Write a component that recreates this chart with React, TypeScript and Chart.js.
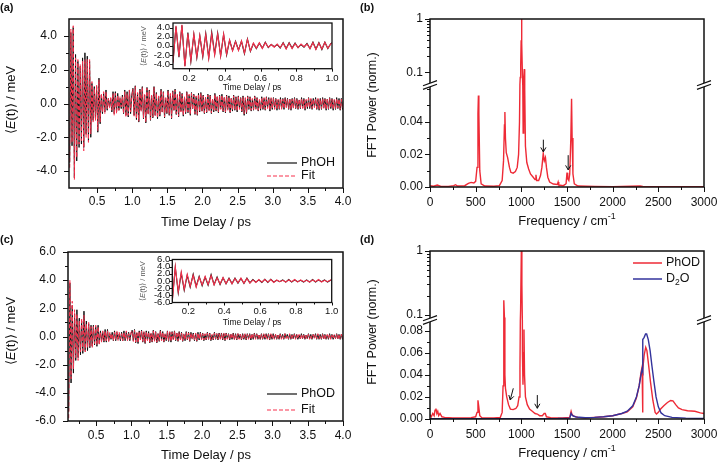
import React, { useEffect, useRef } from "react";
import { Chart, registerables } from "chart.js";

Chart.register(...registerables);

// ---------------- data ----------------
// sampling grid (ps): one value per half period of the ~1000 cm-1 oscillation
const TIMES = Array.from({ length: 235 }, (_, i) => 0.11 + i / 60);

const PHOH_EARLY = [-3.5, 4.2, -2.5, 4.5, -4.4, 2.9, -3.4, 2.5, -2.6, 2.2, -2.4, 2.7, -2.6, 3.0, -1.8, 2.8, -2.2, 2.5, -2.0, 1.2, -1.0, 1.0, -0.9, 1.0, -1.7, 1.5, -1.2, 0.5, -0.6, 0.6, -0.5, 0.8, -0.4, 0.3, -0.2, 0.3, -0.5, 0.7, -0.6, 0.7, -0.5, 0.6, -0.4, 0.3, -0.3, 0.5, -0.6, 0.8, -0.7, 0.7, -0.8, 0.8, -0.6, 0.5];
const PHOH_LATE = [
  0.9, -0.7, 1.05, -0.95, 0.6, -1.1, 0.85, -0.4, 1.0, -0.9, 0.5, -1.15, 0.95, -0.6, 0.8, -1.0, 0.45, -0.85, 1.0, -0.7,
  0.65, -0.9, 0.4, -0.75, 0.85, -0.5, 0.7, -0.85, 0.3, -0.6, 0.8, -0.7, 0.55, -0.9, 0.75, -0.4, 0.85, -0.65, 0.5, -0.8,
  0.7, -0.45, 0.6, -0.75, 0.35, -0.6, 0.7, -0.55, 0.5, -0.7, 0.65, -0.3, 0.55, -0.65, 0.4, -0.7, 0.6, -0.5, 0.65, -0.45,
  0.5, -0.6, 0.35, -0.55, 0.55, -0.4, 0.5, -0.6, 0.25, -0.5, 0.6, -0.45, 0.4, -0.55, 0.5, -0.3, 0.55, -0.5, 0.35, -0.55,
  0.5, -0.35, 0.45, -0.55, 0.3, -0.45, 0.5, -0.4, 0.4, -0.5, 0.45, -0.3, 0.35, -0.5, 0.45, -0.7, 0.3, -0.6, 0.45, -0.35,
  0.4, -0.45, 0.25, -0.4, 0.45, -0.3, 0.35, -0.45, 0.2, -0.4, 0.4, -0.35, 0.3, -0.4, 0.4, -0.25, 0.35, -0.45, 0.3, -0.35,
  0.35, -0.3, 0.3, -0.4, 0.2, -0.35, 0.35, -0.3, 0.3, -0.35, 0.35, -0.2, 0.3, -0.35, 0.25, -0.4, 0.3, -0.25, 0.35, -0.3,
  0.3, -0.35, 0.2, -0.3, 0.35, -0.25, 0.3, -0.4, 0.2, -0.3, 0.35, -0.3, 0.25, -0.35, 0.3, -0.2, 0.35, -0.35, 0.25, -0.4,
  0.3, -0.35, 0.35, -0.25, 0.3, -0.4, 0.25, -0.35, 0.35, -0.3, 0.3, -0.4, 0.2, -0.35, 0.35, -0.3, 0.3, -0.4, 0.3, -0.35, 0.3];
const PHOH_FIT_EARLY = [-3.8, 4.4, -2.3, 4.6, -4.5, 2.7, -3.2, 2.6, -2.4, 2.3, -2.2, 2.5, -2.8, 2.6, -2.0, 2.6, -2.3, 2.6, -1.8, 1.3, -1.1, 0.9, -1.0, 1.1, -1.6, 1.4, -1.1, 0.6, -0.5, 0.7, -0.6, 0.7, -0.3, 0.3, -0.3, 0.4, -0.4, 0.6, -0.7, 0.6, -0.6, 0.5, -0.4, 0.4, -0.2, 0.4, -0.6, 0.7, -0.8, 0.6, -0.7, 0.8, -0.5, 0.4];
const PHOH_FIT_LATE = [
  0.85, -0.75, 1.0, -0.9, 0.65, -1.05, 0.8, -0.5, 0.95, -0.85, 0.55, -1.1, 0.9, -0.65, 0.75, -0.95, 0.5, -0.8, 0.95, -0.75,
  0.6, -0.85, 0.45, -0.7, 0.8, -0.55, 0.65, -0.8, 0.35, -0.55, 0.75, -0.65, 0.6, -0.85, 0.7, -0.45, 0.8, -0.6, 0.55, -0.75,
  0.65, -0.5, 0.55, -0.7, 0.4, -0.55, 0.65, -0.5, 0.55, -0.65, 0.6, -0.35, 0.5, -0.6, 0.45, -0.65, 0.55, -0.45, 0.6, -0.5,
  0.45, -0.55, 0.4, -0.5, 0.5, -0.45, 0.45, -0.55, 0.3, -0.45, 0.55, -0.4, 0.45, -0.5, 0.45, -0.35, 0.5, -0.45, 0.4, -0.5,
  0.45, -0.4, 0.4, -0.5, 0.35, -0.4, 0.45, -0.35, 0.35, -0.45, 0.4, -0.35, 0.3, -0.45, 0.4, -0.6, 0.35, -0.55, 0.4, -0.3,
  0.35, -0.4, 0.3, -0.35, 0.4, -0.35, 0.3, -0.4, 0.25, -0.35, 0.35, -0.3, 0.35, -0.35, 0.35, -0.3, 0.3, -0.4, 0.35, -0.3,
  0.3, -0.35, 0.25, -0.35, 0.25, -0.3, 0.3, -0.35, 0.25, -0.3, 0.3, -0.25, 0.25, -0.3, 0.3, -0.35, 0.25, -0.3, 0.3, -0.25,
  0.25, -0.3, 0.25, -0.25, 0.3, -0.3, 0.25, -0.35, 0.25, -0.25, 0.3, -0.25, 0.3, -0.3, 0.25, -0.25, 0.3, -0.3, 0.3, -0.35,
  0.25, -0.3, 0.3, -0.3, 0.25, -0.35, 0.3, -0.3, 0.3, -0.25, 0.25, -0.35, 0.25, -0.3, 0.3, -0.25, 0.25, -0.35, 0.25, -0.3, 0.25];

const PHOD_EARLY = [-5.3, 3.8, -3.3, 2.2, -2.6, 1.6, -1.7, 1.9, -1.5, 1.3, -1.3, 1.1, -1.2, 1.8, -1.0, 1.1, -1.0, 0.9, -0.8, 0.8, -0.7, 0.8, -0.6, 0.7, -0.7, 0.8, -0.5, 0.4, -0.3, 0.3, -0.4, 0.5, -0.4, 0.5, -0.3, 0.2, -0.2, 0.3, -0.3, 0.4, -0.3, 0.3, -0.2, 0.2, -0.3, 0.3, -0.3, 0.4, -0.3, 0.3, -0.2, 0.3, -0.3, 0.2];
const PHOD_LATE = [
  0.45, -0.3, 0.5, -0.45, 0.25, -0.5, 0.4, -0.2, 0.45, -0.4, 0.3, -0.5, 0.4, -0.25, 0.35, -0.45, 0.2, -0.4, 0.45, -0.3,
  0.35, -0.45, 0.2, -0.35, 0.45, -0.25, 0.35, -0.4, 0.15, -0.3, 0.4, -0.35, 0.3, -0.4, 0.35, -0.2, 0.4, -0.3, 0.25, -0.35,
  0.35, -0.2, 0.3, -0.35, 0.15, -0.3, 0.35, -0.25, 0.3, -0.35, 0.3, -0.15, 0.25, -0.3, 0.2, -0.35, 0.3, -0.25, 0.3, -0.2,
  0.25, -0.3, 0.15, -0.25, 0.3, -0.2, 0.25, -0.3, 0.1, -0.25, 0.3, -0.2, 0.2, -0.25, 0.25, -0.15, 0.25, -0.25, 0.2, -0.3,
  0.25, -0.15, 0.2, -0.25, 0.15, -0.2, 0.25, -0.2, 0.2, -0.25, 0.2, -0.15, 0.15, -0.25, 0.2, -0.2, 0.15, -0.25, 0.2, -0.15,
  0.2, -0.25, 0.15, -0.2, 0.25, -0.15, 0.2, -0.2, 0.1, -0.2, 0.2, -0.2, 0.15, -0.2, 0.2, -0.15, 0.2, -0.25, 0.15, -0.2,
  0.2, -0.15, 0.15, -0.2, 0.1, -0.2, 0.2, -0.15, 0.15, -0.2, 0.2, -0.1, 0.15, -0.2, 0.15, -0.2, 0.15, -0.15, 0.2, -0.15,
  0.15, -0.2, 0.1, -0.15, 0.2, -0.15, 0.15, -0.2, 0.1, -0.15, 0.2, -0.15, 0.15, -0.2, 0.15, -0.1, 0.2, -0.2, 0.15, -0.2,
  0.15, -0.2, 0.2, -0.15, 0.15, -0.2, 0.1, -0.2, 0.2, -0.15, 0.15, -0.2, 0.1, -0.15, 0.2, -0.15, 0.15, -0.2, 0.15, -0.2, 0.15];
const PHOD_FIT_EARLY = [-5.8, 4.0, -3.0, 2.5, -2.3, 1.9, -1.5, 1.6, -1.7, 1.1, -1.1, 1.3, -1.0, 1.5, -1.1, 0.9, -0.8, 1.0, -0.7, 0.7, -0.8, 0.7, -0.5, 0.8, -0.6, 0.7, -0.6, 0.3, -0.4, 0.4, -0.3, 0.4, -0.3, 0.4, -0.4, 0.3, -0.2, 0.2, -0.3, 0.3, -0.2, 0.4, -0.3, 0.3, -0.2, 0.2, -0.3, 0.3, -0.2, 0.4, -0.3, 0.2, -0.2, 0.3];
const PHOD_FIT_LATE = [
  0.4, -0.35, 0.45, -0.4, 0.3, -0.45, 0.35, -0.25, 0.4, -0.35, 0.35, -0.45, 0.35, -0.3, 0.3, -0.4, 0.25, -0.35, 0.4, -0.35,
  0.3, -0.4, 0.25, -0.3, 0.4, -0.3, 0.3, -0.35, 0.2, -0.25, 0.35, -0.3, 0.35, -0.35, 0.3, -0.25, 0.35, -0.25, 0.3, -0.3,
  0.3, -0.25, 0.25, -0.3, 0.2, -0.25, 0.3, -0.2, 0.25, -0.3, 0.25, -0.2, 0.2, -0.25, 0.25, -0.3, 0.25, -0.2, 0.25, -0.25,
  0.2, -0.25, 0.2, -0.2, 0.25, -0.2, 0.2, -0.25, 0.15, -0.2, 0.25, -0.15, 0.2, -0.2, 0.2, -0.2, 0.2, -0.2, 0.25, -0.25,
  0.2, -0.2, 0.15, -0.2, 0.2, -0.15, 0.2, -0.25, 0.15, -0.2, 0.2, -0.2, 0.15, -0.2, 0.15, -0.15, 0.2, -0.2, 0.15, -0.2,
  0.15, -0.2, 0.2, -0.15, 0.2, -0.2, 0.15, -0.15, 0.15, -0.2, 0.15, -0.15, 0.2, -0.15, 0.15, -0.2, 0.15, -0.2, 0.2, -0.15,
  0.15, -0.2, 0.15, -0.15, 0.15, -0.15, 0.15, -0.2, 0.1, -0.15, 0.2, -0.15, 0.1, -0.15, 0.2, -0.15, 0.15, -0.15, 0.15, -0.2,
  0.15, -0.15, 0.15, -0.15, 0.15, -0.2, 0.1, -0.15, 0.15, -0.15, 0.15, -0.2, 0.1, -0.15, 0.15, -0.15, 0.15, -0.15, 0.2, -0.15,
  0.1, -0.15, 0.15, -0.2, 0.15, -0.15, 0.15, -0.15, 0.15, -0.2, 0.1, -0.15, 0.15, -0.15, 0.15, -0.2, 0.15, -0.15, 0.15, -0.15, 0.2];

const PHOH = [...PHOH_EARLY, ...PHOH_LATE];
const PHOH_FIT = [...PHOH_FIT_EARLY, ...PHOH_FIT_LATE];
const PHOD = [...PHOD_EARLY, ...PHOD_LATE];
const PHOD_FIT = [...PHOD_FIT_EARLY, ...PHOD_FIT_LATE];

// FFT spectra (cm^-1, normalised power)
const FREQ_PHOH = [0, 40, 80, 120, 200, 260, 280, 300, 380, 420, 450, 480, 500, 515, 525, 530, 535, 545, 560, 600, 700, 760, 790, 805, 815, 820, 826, 835, 850, 870, 885, 910, 935, 955, 970, 980, 988, 993, 998, 1002, 1006, 1012, 1020, 1026, 1032, 1037, 1045, 1060, 1080, 1100, 1130, 1150, 1160, 1168, 1190, 1210, 1225, 1240, 1252, 1264, 1275, 1290, 1310, 1350, 1395, 1403, 1410, 1460, 1490, 1500, 1508, 1520, 1530, 1542, 1550, 1556, 1565, 1580, 1620, 1800, 2000, 2300, 2330, 2600, 3000];
const FFT_PHOH = [0.0008, 0.0005, 0.0012, 0.0004, 0.0004, 0.0008, 0.0014, 0.0006, 0.0008, 0.0022, 0.0028, 0.0025, 0.0035, 0.012, 0.045, 0.056, 0.045, 0.01, 0.002, 0.0006, 0.0005, 0.0008, 0.004, 0.016, 0.038, 0.046, 0.03, 0.021, 0.018, 0.012, 0.009, 0.0085, 0.0095, 0.012, 0.02, 0.04, 0.08, 0.13, 0.4, 1.0, 0.35, 0.09, 0.033, 0.07, 0.115, 0.06, 0.025, 0.015, 0.011, 0.008, 0.006, 0.0045, 0.0075, 0.004, 0.004, 0.007, 0.012, 0.0205, 0.016, 0.018, 0.012, 0.006, 0.003, 0.0018, 0.0015, 0.003, 0.0012, 0.0008, 0.002, 0.0088, 0.005, 0.004, 0.008, 0.03, 0.054, 0.03, 0.008, 0.002, 0.0006, 0.0003, 0.0002, 0.0006, 0.0003, 0.0002, 0.0002];

const FREQ_PHOD = [0, 15, 30, 45, 55, 65, 75, 85, 95, 110, 130, 160, 250, 350, 450, 500, 515, 525, 533, 545, 570, 700, 770, 790, 800, 806, 810, 815, 820, 826, 840, 860, 880, 910, 940, 960, 975, 985, 992, 1000, 1006, 1012, 1018, 1024, 1029, 1035, 1045, 1065, 1090, 1120, 1150, 1175, 1200, 1230, 1250, 1262, 1275, 1320, 1450, 1530, 1545, 1555, 1575, 1620, 1700, 1800, 1900, 2000, 2100, 2160, 2220, 2260, 2290, 2310, 2322, 2327, 2329, 2332, 2345, 2362, 2375, 2392, 2415, 2440, 2465, 2480, 2500, 2525, 2560, 2600, 2635, 2660, 2690, 2720, 2760, 2820, 2900, 2960, 3000];
const FFT_PHOD = [0.004, 0.002, 0.005, 0.003, 0.008, 0.0095, 0.005, 0.007, 0.003, 0.005, 0.002, 0.0015, 0.001, 0.001, 0.0012, 0.002, 0.006, 0.017, 0.012, 0.003, 0.001, 0.001, 0.0015, 0.006, 0.03, 0.09, 0.168, 0.09, 0.04, 0.028, 0.02, 0.013, 0.009, 0.0085, 0.0095, 0.012, 0.02, 0.045, 0.12, 1.0, 0.3, 0.06, 0.031, 0.06, 0.081, 0.04, 0.02, 0.013, 0.009, 0.007, 0.005, 0.0045, 0.003, 0.003, 0.005, 0.005, 0.002, 0.0012, 0.001, 0.0015, 0.007, 0.004, 0.0025, 0.0015, 0.001, 0.0015, 0.002, 0.003, 0.005, 0.0065, 0.011, 0.019, 0.03, 0.042, 0.047, 0.035, 0.006, 0.045, 0.058, 0.065, 0.062, 0.05, 0.033, 0.017, 0.006, 0.0045, 0.006, 0.009, 0.012, 0.015, 0.0168, 0.0165, 0.013, 0.01, 0.0085, 0.0075, 0.007, 0.0055, 0.005];

const FREQ_D2O = [0, 500, 1000, 1400, 1530, 1545, 1560, 1600, 1700, 1800, 1900, 2000, 2100, 2160, 2220, 2260, 2290, 2310, 2322, 2327, 2332, 2345, 2360, 2372, 2390, 2410, 2430, 2450, 2475, 2500, 2530, 2570, 2650, 2800, 3000];
const FFT_D2O = [0.0003, 0.0002, 0.0003, 0.0004, 0.0008, 0.005, 0.003, 0.0018, 0.0012, 0.0015, 0.002, 0.003, 0.005, 0.007, 0.012, 0.02, 0.03, 0.04, 0.045, 0.043, 0.072, 0.074, 0.077, 0.077, 0.072, 0.062, 0.048, 0.035, 0.02, 0.011, 0.0055, 0.003, 0.0015, 0.0008, 0.0005];

// arrow annotations: [frequency from, value from, frequency to, value to]
const ARROWS_B = [[1241, 0.029, 1241, 0.0215], [1513, 0.0195, 1513, 0.0105]];
const ARROWS_D = [[912, 0.0278, 878, 0.0172], [1175, 0.0217, 1175, 0.0097]];

// ticks
const T_TICKS = [0.5, 1.0, 1.5, 2.0, 2.5, 3.0, 3.5, 4.0];
const T_LABELS = ["0.5", "1.0", "1.5", "2.0", "2.5", "3.0", "3.5", "4.0"];
const T_MINOR = [0.25, 0.75, 1.25, 1.75, 2.25, 2.75, 3.25, 3.75];
const TI_TICKS = [0.2, 0.4, 0.6, 0.8, 1.0];
const TI_LABELS = ["0.2", "0.4", "0.6", "0.8", "1.0"];
const TI_MINOR = [0.3, 0.5, 0.7, 0.9];
const EA_TICKS = [4, 2, 0, -2, -4];
const EA_LABELS = ["4.0", "2.0", "0.0", "-2.0", "-4.0"];
const EA_MINOR = [3, 1, -1, -3];
const EC_TICKS = [6, 4, 2, 0, -2, -4, -6];
const EC_LABELS = ["6.0", "4.0", "2.0", "0.0", "-2.0", "-4.0", "-6.0"];
const EC_MINOR = [5, 3, 1, -1, -3, -5];
const F_TICKS = [0, 500, 1000, 1500, 2000, 2500, 3000];
const F_LABELS = ["0", "500", "1000", "1500", "2000", "2500", "3000"];
const F_MINOR = [250, 750, 1250, 1750, 2250, 2750];
const LOG_TICKS = [0.1, 1];
const LOG_LABELS = ["0.1", "1"];
const LOG_MINOR = [0.2, 0.3, 0.4, 0.5, 0.6, 0.7, 0.8, 0.9];
const PB_TICKS = [0, 0.02, 0.04];
const PB_LABELS = ["0.00", "0.02", "0.04"];
const PB_MINOR = [0.01, 0.03, 0.05, 0.06];
const PD_TICKS = [0, 0.02, 0.04, 0.06, 0.08];
const PD_LABELS = ["0.00", "0.02", "0.04", "0.06", "0.08"];
const PD_MINOR = [0.01, 0.03, 0.05, 0.07];

// ---------------- styling / helpers ----------------
const FONT = '"Liberation Sans", Arial, sans-serif';
const INK = "#111111";
const GRAY = "#555555";
const RED = "#ee2a36";
const FIT_RED = "#f7304c";
const BLUE = "#33339c";

const pts = (xs: number[], ys: number[]) => ys.map((y, i) => ({ x: xs[i], y }));

type Seg = { t: string; i?: boolean; sup?: boolean; sub?: boolean; b?: boolean };

function segFont(s: Seg, size: number) {
  const sz = s.sup || s.sub ? size * 0.68 : size;
  return `${s.i ? "italic " : ""}${s.b ? "bold " : ""}${sz}px ${FONT}`;
}

function drawRich(ctx: CanvasRenderingContext2D, segs: Seg[], x: number, y: number, size: number, color: string, align = "center", rotate = false) {
  ctx.save();
  ctx.translate(x, y);
  if (rotate) ctx.rotate(-Math.PI / 2);
  ctx.fillStyle = color;
  ctx.textBaseline = "middle";
  ctx.textAlign = "left";
  let total = 0;
  for (const s of segs) {
    ctx.font = segFont(s, size);
    total += ctx.measureText(s.t).width;
  }
  let cx = align === "center" ? -total / 2 : align === "right" ? -total : 0;
  for (const s of segs) {
    ctx.font = segFont(s, size);
    const dy = s.sup ? -size * 0.32 : s.sub ? size * 0.28 : 0;
    ctx.fillText(s.t, cx, dy);
    cx += ctx.measureText(s.t).width;
  }
  ctx.restore();
}

function drawTicks(chart: any, id: string, major: number[], minor: number[], lMaj: number, lMin: number) {
  const s = chart.scales[id];
  const ca = chart.chartArea;
  const ctx = chart.ctx;
  ctx.save();
  ctx.strokeStyle = INK;
  ctx.lineWidth = 1;
  ctx.beginPath();
  const put = (v: number, len: number) => {
    const p = s.getPixelForValue(v);
    if (s.isHorizontal()) {
      if (p < ca.left - 0.5 || p > ca.right + 0.5) return;
      const q = Math.round(p) + 0.5;
      ctx.moveTo(q, ca.bottom);
      ctx.lineTo(q, ca.bottom + len);
    } else {
      if (p < s.top - 0.5 || p > s.bottom + 0.5) return;
      const q = Math.round(p) + 0.5;
      ctx.moveTo(ca.left - len, q);
      ctx.lineTo(ca.left, q);
    }
  };
  major.forEach((v) => put(v, lMaj));
  minor.forEach((v) => put(v, lMin));
  ctx.stroke();
  ctx.restore();
}

function drawBreak(ctx: CanvasRenderingContext2D, x: number, y: number) {
  const y1 = y - 1.8, y2 = y + 1.8;
  ctx.save();
  ctx.fillStyle = "#ffffff";
  ctx.beginPath();
  ctx.moveTo(x - 7, y1 + 2.6);
  ctx.lineTo(x + 7, y1 - 2.6);
  ctx.lineTo(x + 7, y2 - 2.6);
  ctx.lineTo(x - 7, y2 + 2.6);
  ctx.closePath();
  ctx.fill();
  ctx.strokeStyle = INK;
  ctx.lineWidth = 1.2;
  ctx.beginPath();
  ctx.moveTo(x - 7, y1 + 2.6);
  ctx.lineTo(x + 7, y1 - 2.6);
  ctx.moveTo(x - 7, y2 + 2.6);
  ctx.lineTo(x + 7, y2 - 2.6);
  ctx.stroke();
  ctx.restore();
}

function drawArrow(ctx: CanvasRenderingContext2D, x1: number, y1: number, x2: number, y2: number) {
  const a = Math.atan2(y2 - y1, x2 - x1);
  const hl = 4.5, hw = 2.6;
  ctx.save();
  ctx.strokeStyle = INK;
  ctx.lineWidth = 1;
  ctx.beginPath();
  ctx.moveTo(x1, y1);
  ctx.lineTo(x2, y2);
  ctx.moveTo(x2 - hl * Math.cos(a) + hw * Math.sin(a), y2 - hl * Math.sin(a) - hw * Math.cos(a));
  ctx.lineTo(x2, y2);
  ctx.lineTo(x2 - hl * Math.cos(a) - hw * Math.sin(a), y2 - hl * Math.sin(a) + hw * Math.cos(a));
  ctx.stroke();
  ctx.restore();
}

function legendLine(ctx: CanvasRenderingContext2D, x1: number, x2: number, y: number, color: string, dash: number[], w: number) {
  ctx.save();
  ctx.strokeStyle = color;
  ctx.lineWidth = w;
  ctx.setLineDash(dash);
  ctx.beginPath();
  ctx.moveTo(x1, y);
  ctx.lineTo(x2, y);
  ctx.stroke();
  ctx.restore();
}

const clipPlugin = {
  id: "clipToScale",
  beforeDatasetDraw(chart: any, args: any) {
    const ys = args.meta.yScale;
    const ca = chart.chartArea;
    const ctx = chart.ctx;
    ctx.save();
    ctx.beginPath();
    ctx.rect(ca.left, ys.top, ca.right - ca.left, ys.bottom - ys.top);
    ctx.clip();
  },
  afterDatasetDraw(chart: any) {
    chart.ctx.restore();
  },
};

type AxisSpec = {
  id: string;
  type: string;
  min: number;
  max: number;
  major: number[];
  labels: string[];
  minor: number[];
  stackWeight?: number;
  weight?: number;
};

type Panel = {
  w: number;
  h: number;
  area: number[];
  x: AxisSpec;
  ys: AxisSpec[];
  datasets: any[];
  tickSize: number;
  xPad: number;
  yPad: number;
  lMaj: number;
  lMin: number;
  borderW: number;
  fillArea?: boolean;
  draw: (chart: any) => void;
};

function buildConfig(p: Panel) {
  const [l, t, r, b] = p.area;
  const axis = (a: AxisSpec, horizontal: boolean) => ({
    type: a.type,
    min: a.min,
    max: a.max,
    position: horizontal ? "bottom" : "left",
    ...(a.stackWeight ? { stack: "ystack", stackWeight: a.stackWeight, weight: a.weight || 0 } : {}),
    offset: false,
    grid: { display: false, drawTicks: false },
    border: { display: false },
    title: { display: false },
    ticks: {
      autoSkip: false,
      maxRotation: 0,
      minRotation: 0,
      padding: horizontal ? p.xPad : p.yPad,
      color: INK,
      font: { family: FONT, size: p.tickSize },
      callback: (v: any) => {
        const k = a.major.findIndex((m) => Math.abs(m - Number(v)) < 1e-9);
        return k >= 0 ? a.labels[k] : "";
      },
    },
    afterBuildTicks: (s: any) => {
      s.ticks = a.major.map((v) => ({ value: v }));
    },
    afterFit: (s: any) => {
      if (horizontal) s.height = p.h - b;
      else s.width = l;
      s.paddingLeft = 0;
      s.paddingRight = 0;
      s.paddingTop = 0;
      s.paddingBottom = 0;
    },
  });
  const scales: any = {};
  scales[p.x.id] = axis(p.x, true);
  p.ys.forEach((a) => (scales[a.id] = axis(a, false)));
  const decor = {
    id: "decor",
    beforeDatasetsDraw(chart: any) {
      if (!p.fillArea) return;
      const ca = chart.chartArea;
      chart.ctx.save();
      chart.ctx.fillStyle = "#ffffff";
      chart.ctx.fillRect(ca.left, ca.top, ca.right - ca.left, ca.bottom - ca.top);
      chart.ctx.restore();
    },
    afterDraw(chart: any) {
      const ctx = chart.ctx;
      const ca = chart.chartArea;
      drawTicks(chart, p.x.id, p.x.major, p.x.minor, p.lMaj, p.lMin);
      p.ys.forEach((a) => drawTicks(chart, a.id, a.major, a.minor, p.lMaj, p.lMin));
      ctx.save();
      ctx.strokeStyle = INK;
      ctx.lineWidth = p.borderW;
      ctx.strokeRect(ca.left, ca.top, ca.right - ca.left, ca.bottom - ca.top);
      ctx.restore();
      p.draw(chart);
    },
  };
  return {
    type: "line",
    data: { datasets: p.datasets },
    options: {
      animation: false,
      responsive: false,
      devicePixelRatio: 1,
      events: [],
      layout: { padding: { left: 0, top: t, right: p.w - r, bottom: 0 } },
      plugins: { legend: { display: false }, tooltip: { enabled: false }, title: { display: false } },
      scales,
      elements: { point: { radius: 0 }, line: { tension: 0 } },
    },
    plugins: [clipPlugin, decor],
  };
}

const E_TITLE: Seg[] = [{ t: "\u27E8" }, { t: "E", i: true }, { t: "(t)\u27E9 / meV" }];
const T_TITLE: Seg[] = [{ t: "Time Delay / ps" }];
const F_TITLE: Seg[] = [{ t: "Frequency / cm" }, { t: "-1", sup: true }];
const P_TITLE: Seg[] = [{ t: "FFT Power (norm.)" }];

const lineDs = (label: string, xs: number[], ys: number[], color: string, dash: number[], w: number, yAxisID = "y") => ({
  label,
  data: pts(xs, ys),
  borderColor: color,
  borderDash: dash,
  borderWidth: w,
  fill: false,
  pointRadius: 0,
  xAxisID: "x",
  yAxisID,
});

// ---------------- panels ----------------
function timePanel(which: "a" | "c") {
  const isA = which === "a";
  const data = isA ? PHOH : PHOD;
  const fit = isA ? PHOH_FIT : PHOD_FIT;
  const name = isA ? "PhOH" : "PhOD";
  return buildConfig({
    w: 360,
    h: 232,
    area: isA ? [69, 19, 343, 188] : [68, 20, 343, 189],
    x: { id: "x", type: "linear", min: 0.1, max: 4.0, major: T_TICKS, labels: T_LABELS, minor: T_MINOR },
    ys: [isA
      ? { id: "y", type: "linear", min: -5, max: 5, major: EA_TICKS, labels: EA_LABELS, minor: EA_MINOR }
      : { id: "y", type: "linear", min: -6, max: 6, major: EC_TICKS, labels: EC_LABELS, minor: EC_MINOR }],
    datasets: [
      lineDs("Fit", TIMES, fit, FIT_RED, [4, 2], 1),
      lineDs(name, TIMES, data, INK, [], 1),
    ],
    tickSize: 12,
    xPad: isA ? 6 : 7,
    yPad: 12,
    lMaj: 5,
    lMin: 3,
    borderW: 1.5,
    draw: (chart) => {
      const ctx = chart.ctx;
      drawRich(ctx, [{ t: `(${which})`, b: true }], 0, 8, 11, INK, "left");
      drawRich(ctx, T_TITLE, 206, isA ? 222 : 223, 13, INK);
      drawRich(ctx, E_TITLE, 11, isA ? 100 : 99, 13, INK, "center", true);
      const y1 = isA ? 163 : 162, y2 = isA ? 176 : 178;
      legendLine(ctx, 267, 297, y1, INK, [], 1.2);
      legendLine(ctx, 267, 297, y2, FIT_RED, [4, 2], 1.2);
      drawRich(ctx, [{ t: name }], 301, y1, 12.5, INK, "left");
      drawRich(ctx, [{ t: "Fit" }], 301, y2, 12.5, INK, "left");
    },
  });
}

function insetPanel(which: "a" | "c") {
  const isA = which === "a";
  const data = isA ? PHOH : PHOD;
  const fit = isA ? PHOH_FIT : PHOD_FIT;
  return buildConfig({
    w: 230,
    h: 85,
    area: isA ? [53, 8, 212, 53.7] : [52.3, 9.5, 211.7, 52.5],
    x: { id: "x", type: "linear", min: 0.11, max: 1.0, major: TI_TICKS, labels: TI_LABELS, minor: TI_MINOR },
    ys: [isA
      ? { id: "y", type: "linear", min: -5, max: 5, major: EA_TICKS, labels: EA_LABELS, minor: [] }
      : { id: "y", type: "linear", min: -6, max: 6, major: EC_TICKS, labels: EC_LABELS, minor: [] }],
    datasets: [
      lineDs("Fit", TIMES, fit, FIT_RED, [], 1.1),
      lineDs(isA ? "PhOH" : "PhOD", TIMES, data, INK, [], 1.1),
    ],
    tickSize: 9.5,
    xPad: isA ? 4 : 3.5,
    yPad: isA ? 3 : 2,
    lMaj: 3,
    lMin: 2,
    borderW: 1.3,
    fillArea: true,
    draw: (chart) => {
      const ctx = chart.ctx;
      drawRich(ctx, E_TITLE, isA ? 24 : 23, 31, 7.5, GRAY, "center", true);
      drawRich(ctx, T_TITLE, 132, isA ? 73 : 72.7, 8.5, INK);
    },
  });
}

function fftPanel(which: "b" | "d") {
  const isB = which === "b";
  const datasets = isB
    ? [
        lineDs("PhOH", FREQ_PHOH, FFT_PHOH, RED, [], 1.4, "y"),
        lineDs("PhOH", FREQ_PHOH, FFT_PHOH, RED, [], 1.4, "y2"),
      ]
    : [
        lineDs("D2O", FREQ_D2O, FFT_D2O, BLUE, [], 1.4, "y"),
        lineDs("D2O", FREQ_D2O, FFT_D2O, BLUE, [], 1.4, "y2"),
        lineDs("PhOD", FREQ_PHOD, FFT_PHOD, RED, [], 1.4, "y"),
        lineDs("PhOD", FREQ_PHOD, FFT_PHOD, RED, [], 1.4, "y2"),
      ];
  return buildConfig({
    w: 359,
    h: 232,
    area: [70, 19, 344, 187],
    x: { id: "x", type: "linear", min: 0, max: 3000, major: F_TICKS, labels: F_LABELS, minor: F_MINOR },
    ys: isB
      ? [
          { id: "y", type: "linear", min: 0, max: 0.0625, major: PB_TICKS, labels: PB_LABELS, minor: PB_MINOR, stackWeight: 102, weight: 0 },
          { id: "y2", type: "logarithmic", min: 0.058, max: 1, major: LOG_TICKS, labels: LOG_LABELS, minor: LOG_MINOR, stackWeight: 66, weight: 1 },
        ]
      : [
          { id: "y", type: "linear", min: 0, max: 0.0897, major: PD_TICKS, labels: PD_LABELS, minor: PD_MINOR, stackWeight: 99, weight: 0 },
          { id: "y2", type: "logarithmic", min: 0.0825, max: 1, major: LOG_TICKS, labels: LOG_LABELS, minor: LOG_MINOR, stackWeight: 69, weight: 1 },
        ],
    datasets,
    tickSize: 12,
    xPad: 8,
    yPad: 7,
    lMaj: 5,
    lMin: 3,
    borderW: 1.5,
    draw: (chart) => {
      const ctx = chart.ctx;
      const ca = chart.chartArea;
      const xs = chart.scales.x;
      const ys = chart.scales.y;
      const yb = (chart.scales.y.top + chart.scales.y2.bottom) / 2;
      drawBreak(ctx, ca.left, yb);
      drawBreak(ctx, ca.right, yb);
      (isB ? ARROWS_B : ARROWS_D).forEach(([f1, v1, f2, v2]) =>
        drawArrow(ctx, xs.getPixelForValue(f1), ys.getPixelForValue(v1), xs.getPixelForValue(f2), ys.getPixelForValue(v2))
      );
      drawRich(ctx, [{ t: `(${which})`, b: true }], 0, 8, 11, INK, "left");
      drawRich(ctx, F_TITLE, 207, 221, 13, INK);
      drawRich(ctx, P_TITLE, 13, isB ? 105 : 100, 12.5, INK, "center", true);
      if (!isB) {
        legendLine(ctx, 273, 302, 31, RED, [], 1.5);
        legendLine(ctx, 273, 302, 47, BLUE, [], 1.5);
        drawRich(ctx, [{ t: "PhOD" }], 306, 31, 12.5, INK, "left");
        drawRich(ctx, [{ t: "D" }, { t: "2", sub: true }, { t: "O" }], 306, 47, 12.5, INK, "left");
      }
    },
  });
}

// ---------------- components ----------------
function ChartCanvas({ x, y, w, h, make }: { x: number; y: number; w: number; h: number; make: () => any }) {
  const ref = useRef<HTMLCanvasElement | null>(null);
  useEffect(() => {
    const chart = new Chart(ref.current as HTMLCanvasElement, make());
    return () => chart.destroy();
  }, []);
  return (
    <canvas
      ref={ref}
      width={w}
      height={h}
      style={{ position: "absolute", left: x, top: y, width: w, height: h }}
    />
  );
}

export default function App() {
  return (
    <div style={{ position: "absolute", left: 0, top: 0, width: 719, height: 464, background: "#ffffff", overflow: "hidden" }}>
      <ChartCanvas x={0} y={0} w={360} h={232} make={() => timePanel("a")} />
      <ChartCanvas x={360} y={0} w={359} h={232} make={() => fftPanel("b")} />
      <ChartCanvas x={0} y={232} w={360} h={232} make={() => timePanel("c")} />
      <ChartCanvas x={360} y={232} w={359} h={232} make={() => fftPanel("d")} />
      <ChartCanvas x={120} y={15} w={230} h={85} make={() => insetPanel("a")} />
      <ChartCanvas x={120} y={250} w={230} h={85} make={() => insetPanel("c")} />
    </div>
  );
}
